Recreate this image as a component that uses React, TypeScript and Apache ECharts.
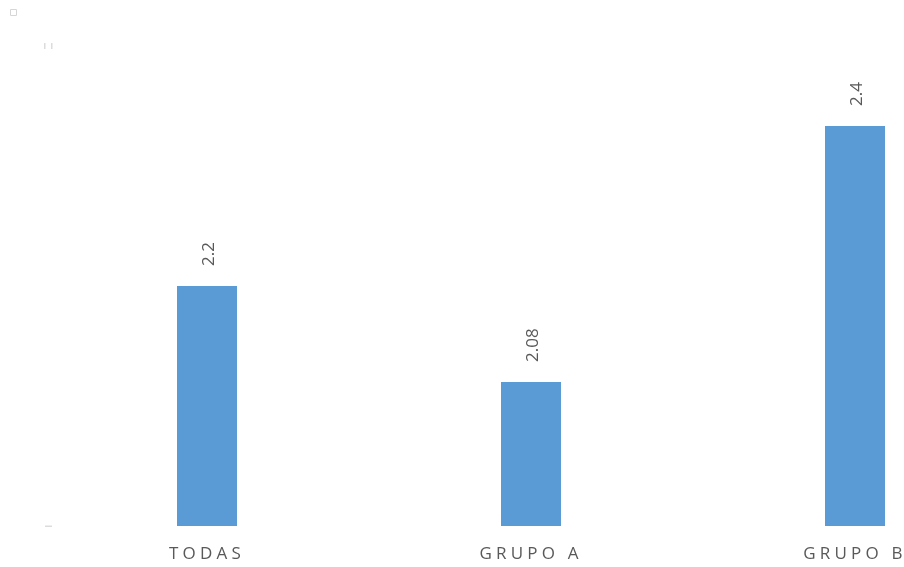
import React, { useEffect, useRef } from "react";
import * as echarts from "echarts";

const categories = ["TODAS", "GRUPO A", "GRUPO B"];
const values = [2.2, 2.08, 2.4];
const yMin = 1.9;
const yMax = 2.5;

export default function App() {
  const ref = useRef<HTMLDivElement>(null);
  useEffect(() => {
    if (!ref.current) return;
    const chart = echarts.init(ref.current, undefined, { renderer: "svg" });
    chart.setOption({
      animation: false,
      grid: { left: 37, top: 38, width: 972, bottom: 41 },
      xAxis: {
        type: "category",
        data: categories,
        axisLine: { show: false },
        axisTick: { show: false },
        axisLabel: {
          color: "#595959",
          fontFamily: "Open Sans",
          fontSize: 17,
          margin: 18,
        },
      },
      yAxis: {
        type: "value",
        min: yMin,
        max: yMax,
        axisLine: { show: false },
        axisTick: { show: false },
        splitLine: { show: false },
        axisLabel: { show: false },
      },
      graphic: [
        { type: "rect", shape: { x: 2.5, y: 1.5, width: 6, height: 6 }, style: { fill: "none", stroke: "#d6d6d6", lineWidth: 1 } },
        { type: "rect", shape: { x: 36, y: 35, width: 1.5, height: 6 }, style: { fill: "#dcdcdc" } },
        { type: "rect", shape: { x: 43, y: 35, width: 1.5, height: 6 }, style: { fill: "#dcdcdc" } },
        { type: "rect", shape: { x: 37, y: 517.5, width: 7, height: 1.5 }, style: { fill: "#dcdcdc" } },
      ],
      series: [
        {
          type: "bar",
          data: values,
          barWidth: 60,
          itemStyle: { color: "#5B9BD5" },
          label: {
            show: true,
            position: "top",
            rotate: 90,
            align: "left",
            verticalAlign: "middle",
            distance: 20,
            color: "#595959",
            fontFamily: "Open Sans",
            fontSize: 17,
          },
        },
      ],
    });
    const texts = ref.current.querySelectorAll("text");
    texts.forEach((t) => {
      if (categories.includes((t.textContent || "").trim())) {
        (t as SVGTextElement).style.letterSpacing = "4.2px";
      }
    });
    return () => chart.dispose();
  }, []);
  return (
    <div style={{ position: "fixed", left: 0, top: 0, width: 904, height: 567, overflow: "hidden" }}>
      <div ref={ref} style={{ position: "absolute", left: 8, top: 8, width: 1020, height: 559 }} />
    </div>
  );
}
